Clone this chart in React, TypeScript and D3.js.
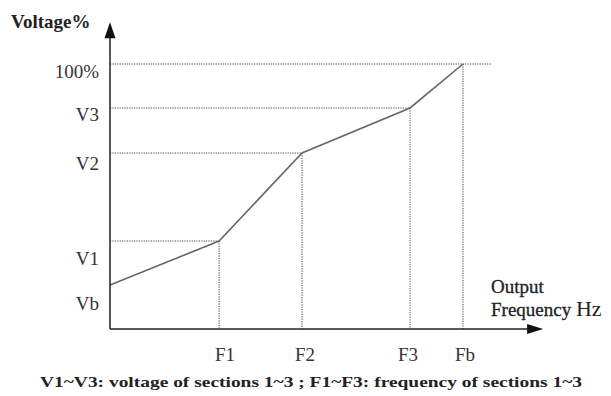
import React from "react";
import * as d3 from "d3";

const xLabels = ["F1", "F2", "F3", "Fb"];
const freqValues = [30.9, 54.4, 85, 100];
const yLabels = ["Vb", "V1", "V2", "V3", "100%"];
const voltValues = [16.6, 33.2, 66.4, 83.4, 100];
const curveFreq = [0, 30.9, 54.4, 85, 100];
const curveVolt = [16.6, 33.2, 66.4, 83.4, 100];
const yLabelNudge = [18, 17, 10, 7, 7];
const xLabelNudge = [6, 3, -2, 2];

const W = 611;
const H = 396;

export default function App() {
  const x = d3.scaleLinear().domain([0, 100]).range([110, 463]);
  const y = d3.scaleLinear().domain([0, 100]).range([329, 64]);
  const serif = "'Liberation Serif', 'Times New Roman', serif";
  const line = d3
    .line<number>()
    .x((_, i) => x(curveFreq[i]))
    .y((d) => y(d));
  const pts = curveVolt;
  const yTop = y(115.8);
  const xRight = x(122.7);
  const dot = { stroke: "#444", strokeWidth: 1, strokeDasharray: "1.2,1.2", fill: "none" };

  return (
    <svg
      width={W}
      height={H}
      style={{ position: "absolute", left: 0, top: 0, background: "#fff" }}
      fontFamily={serif}
    >
      {/* horizontal dotted guides */}
      {voltValues.map((v, i) =>
        i === 0 ? null : (
          <line
            key={"h" + i}
            x1={x(0)}
            x2={i === voltValues.length - 1 ? x(108.2) : x(freqValues[i - 1])}
            y1={y(v)}
            y2={y(v)}
            {...dot}
          />
        )
      )}
      {/* vertical dotted guides */}
      {freqValues.map((f, i) => (
        <line key={"v" + i} x1={x(f)} x2={x(f)} y1={y(voltValues[i + 1])} y2={y(0)} {...dot} />
      ))}
      {/* curve */}
      <path d={line(pts) || ""} fill="none" stroke="#666" strokeWidth={1.6} />
      {/* axes */}
      <line x1={x(0)} x2={x(0)} y1={y(0)} y2={yTop + 12} stroke="#222" strokeWidth={1.5} />
      <line x1={x(0)} x2={xRight - 12} y1={y(0)} y2={y(0)} stroke="#222" strokeWidth={1.5} />
      <path
        d={`M${x(0)},${yTop} L${x(0) - 5.5},${yTop + 16} L${x(0) + 5.5},${yTop + 16} Z`}
        fill="#111"
      />
      <path
        d={`M${xRight},${y(0)} L${xRight - 16},${y(0) - 5} L${xRight - 16},${y(0) + 5} Z`}
        fill="#111"
      />
      {/* y labels */}
      {yLabels.map((l, i) => (
        <text
          key={"yl" + i}
          x={x(0) - 11}
          y={y(voltValues[i]) + yLabelNudge[i]}
          textAnchor="end"
          dominantBaseline="central"
          fontSize={19}
          fill="#333"
        >
          {l}
        </text>
      ))}
      {/* x labels */}
      {xLabels.map((l, i) => (
        <text
          key={"xl" + i}
          x={x(freqValues[i]) + xLabelNudge[i]}
          y={361}
          textAnchor="middle"
          fontSize={19}
          fill="#333"
        >
          {l}
        </text>
      ))}
      <text x={11} y={28} fontSize={19} fontWeight="bold" fill="#222">
        Voltage%
      </text>
      <text x={491} y={293} fontSize={19} fill="#222" stroke="#222" strokeWidth={0.3}>
        Output
      </text>
      <text x={491} y={316} fontSize={19} fill="#222" stroke="#222" strokeWidth={0.3}>
        Frequency <tspan fontSize={22} strokeWidth={0}>Hz</tspan>
      </text>
      <text x={40} y={387} fontSize={15} fontWeight="bold" fill="#222" textLength={542} lengthAdjust="spacingAndGlyphs">
        V1~V3: voltage of sections 1~3 ; F1~F3: frequency of sections 1~3
      </text>
    </svg>
  );
}
